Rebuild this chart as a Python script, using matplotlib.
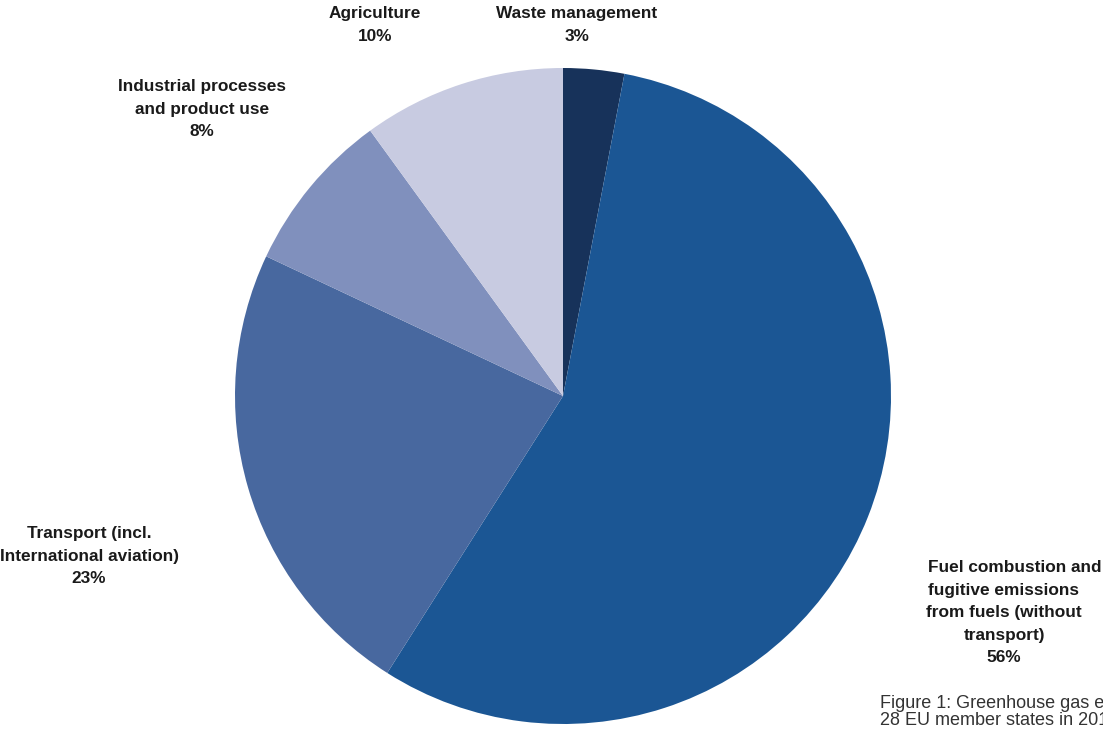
import matplotlib
matplotlib.use("Agg")
import matplotlib.pyplot as plt

# Greenhouse gas emissions by sector, EU-28 (share in %)
sectors = ["Waste management", "Fuel combustion", "Transport", "Industrial processes", "Agriculture"]
shares = [3, 56, 23, 8, 10]
colors = ["#17325a", "#1b5694", "#48689f", "#8090bd", "#c8cbe1"]

labels = [
    ("Waste management\n3%", 577, 25),
    ("fugitive emissions\nfrom fuels (without\ntransport)\n56%", 1004, 624),
    ("Transport (incl.\nInternational aviation)\n23%", 89, 556),
    ("Industrial processes\nand product use\n8%", 202, 109),
    ("Agriculture\n10%", 375, 25),
]

W, H = 1103, 729
fig = plt.figure(figsize=(W / 100, H / 100), dpi=100)
ax = fig.add_axes([0, 0, 1, 1])

cx, cy, r = 563, H - 396, 328
ax.pie(shares, colors=colors, startangle=90, counterclock=False,
       center=(cx, cy), radius=r, frame=True,
       wedgeprops=dict(linewidth=0))
ax.set_xlim(0, W)
ax.set_ylim(0, H)
ax.set_aspect("equal")
ax.axis("off")

font = dict(family="Liberation Sans", weight="bold", fontsize=12.4, color="#1a1a1a")
for txt, x, y in labels:
    ax.text(x, H - y, txt, ha="center", va="center", linespacing=1.6, **font)
ax.text(1101, H - 567, "Fuel combustion and", ha="right", va="center", **font)

ax.text(880, H - 712, "Figure 1: Greenhouse gas emissions by sector in the\n28 EU member states in 2014",
        ha="left", va="center", family="Liberation Sans", fontsize=13,
        color="#333333", linespacing=0.95, clip_on=False)

fig.savefig("out.png", dpi=100)
